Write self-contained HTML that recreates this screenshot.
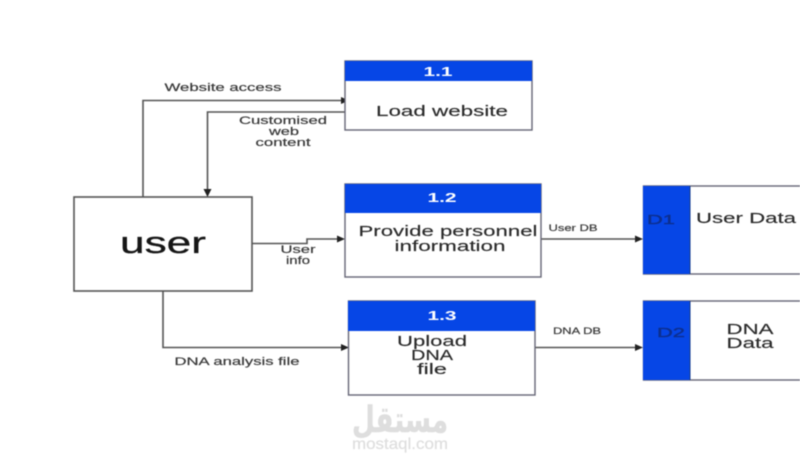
<!DOCTYPE html>
<html>
<head>
<meta charset="utf-8">
<style>
html,body{margin:0;padding:0;background:#fff;width:800px;height:460px;overflow:hidden}
svg{display:block;filter:blur(.45px)}
text{font-family:"Liberation Sans",sans-serif}
.lb{fill:#3a3a3a;stroke:#3a3a3a;stroke-width:.2px}
.tx{fill:#2a2a2a;stroke:#2a2a2a;stroke-width:.15px}
.hd{fill:#fff;font-weight:bold}
.ds{fill:#0d2f8f;stroke:#0d2f8f;stroke-width:.4px}
.wm{fill:#dedede;stroke:#dedede;stroke-width:.5px}
</style>
</head>
<body>
<svg width="800" height="460" viewBox="0 0 800 460" xmlns="http://www.w3.org/2000/svg">
<rect width="800" height="460" fill="#fff"/>
<g fill="none" stroke="#555" stroke-width="1.6">
<rect x="74" y="197" width="178" height="94"/>
<path d="M143 197V100.500H342"/>
<path d="M345 112H207.500V192"/>
<path d="M252 243.500H307V239H342"/>
<path d="M163 291V347.500H342"/>
<path d="M541 239H640"/>
<path d="M535 347.500H640"/>
</g>
<g fill="#222">
<path d="M349 100.500l-8-3.500v7z"/>
<path d="M207.500 197l-4-8h8z"/>
<path d="M345 239l-8-3.500v7z"/>
<path d="M349 347.500l-8-3.500v7z"/>
<path d="M643 239l-8-3.500v7z"/>
<path d="M643 347.500l-8-3.500v7z"/>
</g>
<g fill="#fff" stroke="#667" stroke-width="1.400">
<rect x="345" y="61" width="187" height="69"/>
<rect x="345" y="184" width="196" height="93"/>
<rect x="348.500" y="301" width="186.500" height="94"/>
<rect x="643.500" y="186" width="170" height="88"/>
<rect x="643.500" y="301" width="170" height="79"/>
</g>
<g fill="#0646e6">
<rect x="345" y="61" width="187" height="20"/>
<rect x="345" y="184" width="196" height="29"/>
<rect x="348" y="301" width="187" height="30"/>
<rect x="643" y="186" width="47" height="88"/>
<rect x="643" y="301" width="47" height="79"/>
</g>
<g stroke="#123a8c" stroke-width="1">
<path d="M690 186V274M690 301V380"/>
</g>
<g text-anchor="middle">
<text x="163" y="253" font-size="31" textLength="86" lengthAdjust="spacingAndGlyphs" style="fill:#161616;stroke:#161616;stroke-width:.3px">user</text>
<text class="lb" x="223" y="91" font-size="11" textLength="117" lengthAdjust="spacingAndGlyphs">Website access</text>
<text class="lb" x="283" y="124" font-size="11" textLength="88" lengthAdjust="spacingAndGlyphs">Customised</text>
<text class="lb" x="284" y="135" font-size="11" textLength="30" lengthAdjust="spacingAndGlyphs">web</text>
<text class="lb" x="283" y="146" font-size="11" textLength="55" lengthAdjust="spacingAndGlyphs">content</text>
<text class="lb" x="298" y="253" font-size="11" textLength="35" lengthAdjust="spacingAndGlyphs">User</text>
<text class="lb" x="298" y="264" font-size="11" textLength="24" lengthAdjust="spacingAndGlyphs">info</text>
<text class="lb" x="237" y="365" font-size="11" textLength="125" lengthAdjust="spacingAndGlyphs">DNA analysis file</text>
<text class="lb" x="573" y="231" font-size="9.500" textLength="49" lengthAdjust="spacingAndGlyphs">User DB</text>
<text class="lb" x="577" y="334" font-size="9.500" textLength="48" lengthAdjust="spacingAndGlyphs">DNA DB</text>
<text class="hd" x="438" y="76" font-size="13" textLength="29" lengthAdjust="spacingAndGlyphs">1.1</text>
<text class="hd" x="442" y="202" font-size="13" textLength="29" lengthAdjust="spacingAndGlyphs">1.2</text>
<text class="hd" x="442" y="320" font-size="13" textLength="29" lengthAdjust="spacingAndGlyphs">1.3</text>
<text class="tx" x="442" y="116" font-size="15" textLength="132" lengthAdjust="spacingAndGlyphs">Load website</text>
<text class="tx" x="448" y="236" font-size="15" textLength="179" lengthAdjust="spacingAndGlyphs">Provide personnel</text>
<text class="tx" x="450" y="251" font-size="15" textLength="111" lengthAdjust="spacingAndGlyphs">information</text>
<text class="tx" x="432" y="346" font-size="15" textLength="70" lengthAdjust="spacingAndGlyphs">Upload</text>
<text class="tx" x="432" y="360" font-size="15" textLength="42" lengthAdjust="spacingAndGlyphs">DNA</text>
<text class="tx" x="432" y="374" font-size="15" textLength="30" lengthAdjust="spacingAndGlyphs">file</text>
<text class="ds" x="661" y="224" font-size="13" textLength="28" lengthAdjust="spacingAndGlyphs">D1</text>
<text class="ds" x="671" y="337" font-size="13" textLength="28" lengthAdjust="spacingAndGlyphs">D2</text>
<text class="tx" x="746" y="223" font-size="15" textLength="100" lengthAdjust="spacingAndGlyphs">User Data</text>
<text class="tx" x="750" y="334" font-size="15" textLength="47" lengthAdjust="spacingAndGlyphs">DNA</text>
<text class="tx" x="750" y="348" font-size="15" textLength="47" lengthAdjust="spacingAndGlyphs">Data</text>
<text class="wm" x="400" y="432" font-size="36" font-weight="bold" textLength="96" lengthAdjust="spacingAndGlyphs" style="font-family:'DejaVu Sans','Noto Sans CJK SC',sans-serif">مستقل</text>
<text class="wm" x="400" y="449" font-size="16" textLength="96" lengthAdjust="spacingAndGlyphs" style="stroke-width:.2px">mostaql.com</text>
</g>
</svg>
</body>
</html>
